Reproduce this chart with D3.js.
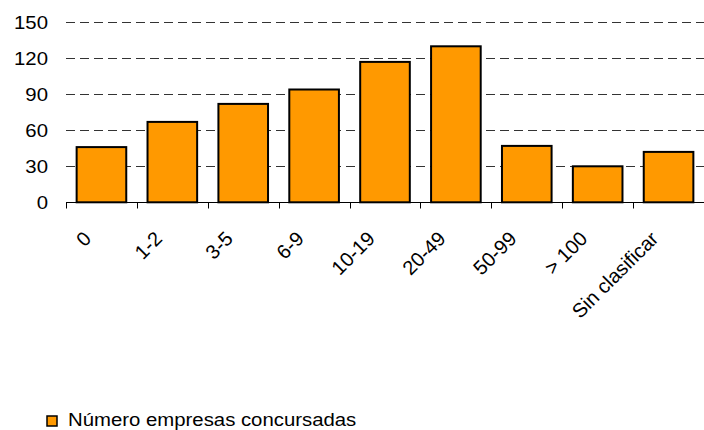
<!DOCTYPE html>
<html>
<head>
<meta charset="utf-8">
<script src="https://cdn.jsdelivr.net/npm/d3@7"></script>
<style>
  body { margin: 0; background: #fff; }
  svg { display: block; }
  text { font-family: "Liberation Sans", Arial, sans-serif; fill: #000; }
</style>
</head>
<body>
<script>
  var categories = ["0", "1-2", "3-5", "6-9", "10-19", "20-49", "50-99", "> 100", "Sin clasificar"];
  var values = [46, 67, 82, 94, 117, 130, 47, 30, 42];
  var yTicks = [0, 30, 60, 90, 120, 150];
  var seriesName = "Número empresas concursadas";

  var settings = {
    width: 704,
    height: 430,
    left: 66,
    right: 704,
    top: 22.3,
    bottom: 202.3,
    stretch: 1.1
  };

  var svg = d3.select("body").append("svg")
      .attr("width", settings.width)
      .attr("height", settings.height);

  var x = d3.scaleBand()
      .domain(categories)
      .range([settings.left, settings.right])
      .paddingInner(0.3)
      .paddingOuter(0.15);

  var y = d3.scaleLinear()
      .domain([0, 150])
      .range([settings.bottom, settings.top]);

  // dashed gridlines (no line at zero, the axis sits there)
  svg.selectAll("line.grid").data(yTicks.filter(function(d){ return d > 0; }))
    .enter().append("line")
      .attr("class", "grid")
      .attr("x1", settings.left)
      .attr("x2", settings.right)
      .attr("y1", function(d){ return Math.round(y(d)) + 0.5; })
      .attr("y2", function(d){ return Math.round(y(d)) + 0.5; })
      .style("stroke", "#333")
      .style("stroke-width", 1)
      .style("stroke-dasharray", "9,5");

  // y labels, slightly widened like the original
  svg.selectAll("text.ylab").data(yTicks)
    .enter().append("text")
      .attr("class", "ylab")
      .attr("transform", function(d){ return "translate(48," + y(d) + ") scale(" + settings.stretch + ",1)"; })
      .attr("text-anchor", "end")
      .attr("dy", "0.36em")
      .style("font-size", "18.5px")
      .text(function(d){ return d; });

  // bars
  svg.selectAll("rect.bar").data(values)
    .enter().append("rect")
      .attr("class", "bar")
      .attr("x", function(d, i){ return x(categories[i]); })
      .attr("y", function(d){ return y(d); })
      .attr("width", x.bandwidth())
      .attr("height", function(d){ return y(0) - y(d); })
      .style("fill", "#FF9900")
      .style("stroke", "#000")
      .style("stroke-width", 2);

  // x axis line and ticks between categories
  var axisY = Math.round(y(0)) + 0.5;
  svg.append("line")
      .attr("x1", settings.left).attr("x2", settings.right)
      .attr("y1", axisY).attr("y2", axisY)
      .style("stroke", "#000").style("stroke-width", 1);

  var boundaries = d3.range(categories.length + 1).map(function(i){
    return settings.left + i * (settings.right - settings.left) / categories.length;
  });
  svg.selectAll("line.tick").data(boundaries)
    .enter().append("line")
      .attr("class", "tick")
      .attr("x1", function(d){ return Math.round(d) + 0.5; })
      .attr("x2", function(d){ return Math.round(d) + 0.5; })
      .attr("y1", axisY).attr("y2", axisY + 6)
      .style("stroke", "#000").style("stroke-width", 1);

  // rotated category labels
  svg.selectAll("text.xlab").data(categories)
    .enter().append("text")
      .attr("class", "xlab")
      .attr("transform", function(d){
        var cx = x(d) + x.bandwidth() / 2;
        return "translate(" + (cx - 9) + ",240) rotate(-45)";
      })
      .attr("text-anchor", "end")
      .style("font-size", "20px")
      .text(function(d){ return d; });

  // legend
  svg.append("rect")
      .attr("x", 47).attr("y", 416)
      .attr("width", 10).attr("height", 10)
      .style("fill", "#FF9900")
      .style("stroke", "#000")
      .style("stroke-width", 1.5);

  svg.append("text")
      .attr("transform", "translate(68,426) scale(" + settings.stretch + ",1)")
      .style("font-size", "18.5px")
      .text(seriesName);
</script>
</body>
</html>
